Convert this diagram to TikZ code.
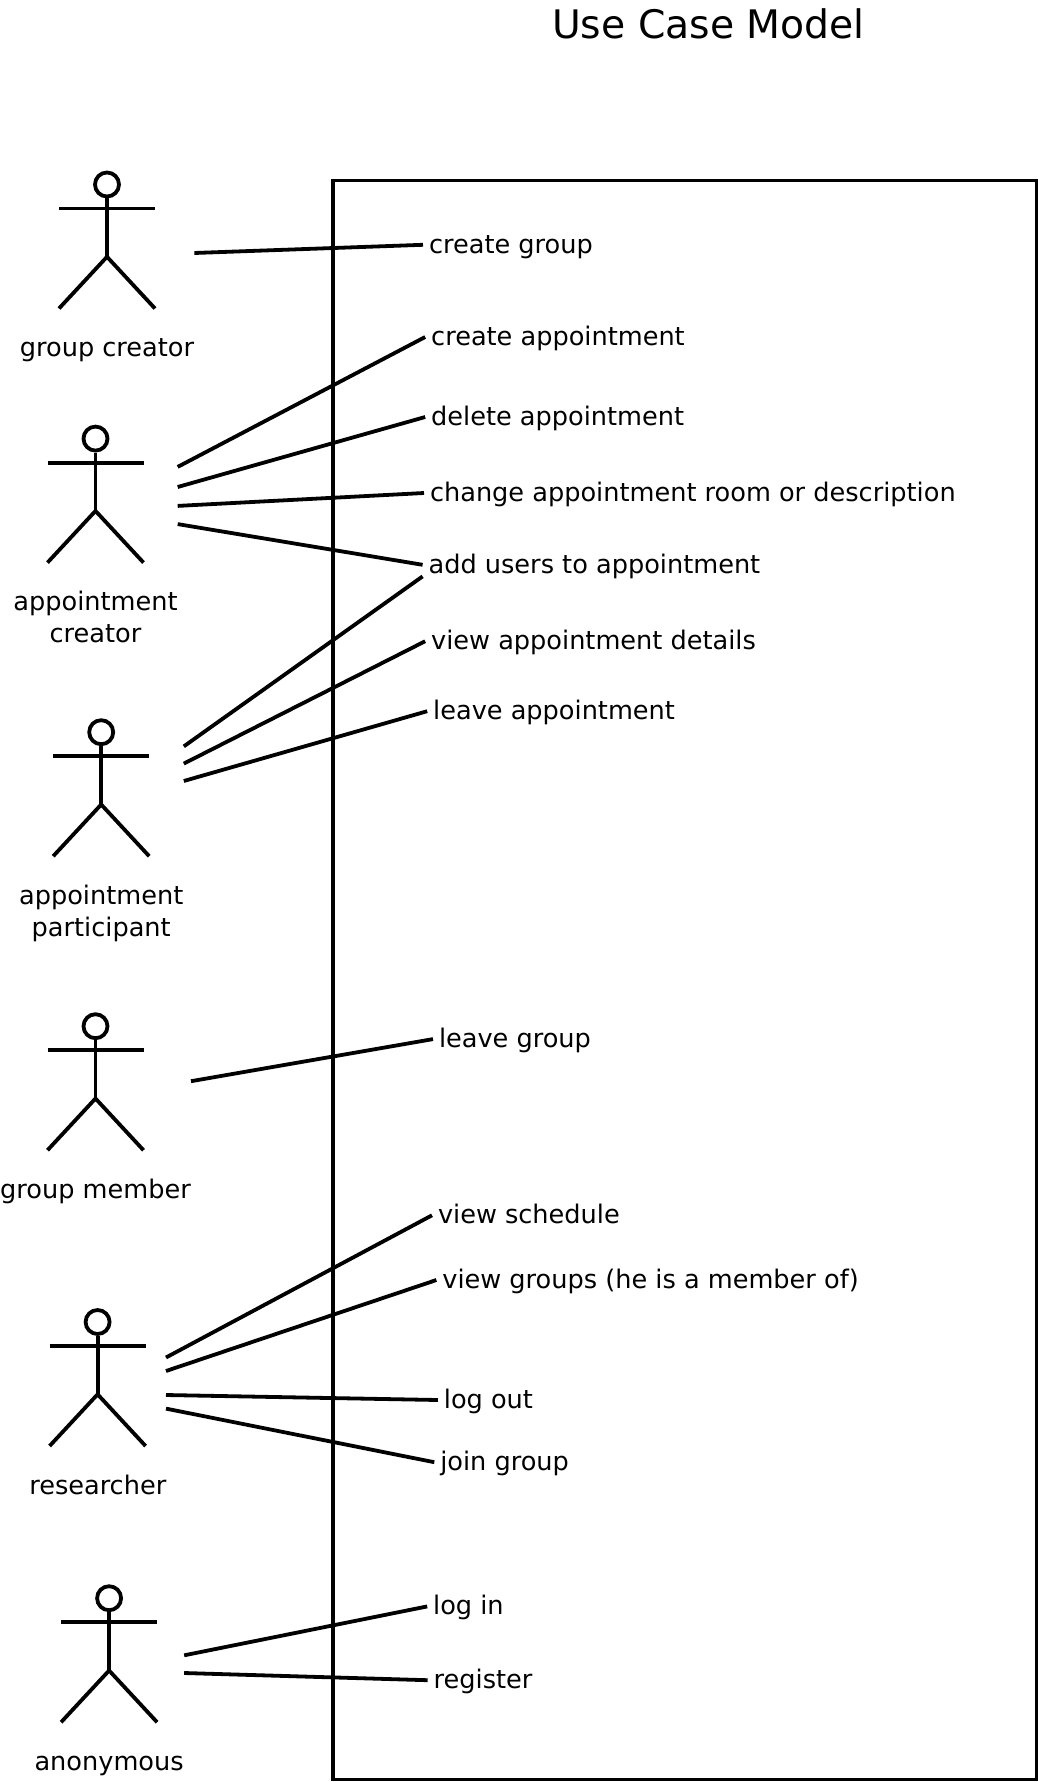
\documentclass[tikz,border=0pt]{standalone}
\usepackage{fontspec}
\setmainfont{DejaVu Sans}
\tikzset{
  stroke/.style={draw=black, line width=3.8pt},
  usecase/.style={anchor=west, inner xsep=6pt, inner ysep=0pt, outer sep=0pt, text height=21pt, text depth=4.2pt, font=\fontsize{25.6}{32}\selectfont},
  actorname/.style={anchor=north, inner sep=0pt, align=center, font=\fontsize{25.6}{32}\selectfont},
  pics/actor/.style={code={
    \node (-head) at (0,0) [circle, stroke, minimum size=24pt, inner sep=0pt] {};
    \coordinate (-hip) at (0,72.3);
    \draw[stroke] (-head) -- (-hip);
    \draw[stroke] (-48,24) -- (48,24);
    \draw[stroke] (-48,124) -- (-hip) -- (48,124);
  }}
}
\begin{document}
\begin{tikzpicture}[x=1pt, y=-1pt]
\useasboundingbox (0,0) rectangle (1038,1782);
\node (title) at (708.5,24) [font=\fontsize{39.3}{44}\selectfont, inner sep=0pt] {Use Case Model};
\node (system) at (684.75,980) [stroke, line width=3.9pt, minimum width=703.5pt, minimum height=1599pt, inner sep=0pt, outer sep=0pt] {};
% actors
\pic (creator) at (107,184.5) {actor};
\pic (apptcreator) at (95.5,438.6) {actor};
\pic (participant) at (101.2,732.2) {actor};
\pic (member) at (95.5,1026.2) {actor};
\pic (researcher) at (97.6,1322) {actor};
\pic (anon) at (109.1,1598.2) {actor};
\node (creatorname) at (107,334) [actorname] {\strut group creator};
\node (apptcreatorname) at (95.5,588.2) [actorname] {\strut appointment\\creator};
\node (participantname) at (101.2,881.6) [actorname] {\strut appointment\\participant};
\node (membername) at (95.5,1176) [actorname] {\strut group member};
\node (researchername) at (97.8,1471.5) [actorname] {\strut researcher};
\node (anonname) at (109.1,1748) [actorname] {\strut anonymous};
% use cases
\node (creategroup) at (423,244.8) [usecase] {create group};
\node (createappt) at (425.2,337) [usecase] {create appointment};
\node (deleteappt) at (425.2,417) [usecase] {delete appointment};
\node (changeappt) at (424,493) [usecase] {change appointment room or description};
\node (addusers) at (422.6,564.8) [usecase] {add users to appointment};
\node (viewdetails) at (425.2,641.2) [usecase] {view appointment details};
\node (leaveappt) at (427.2,711.2) [usecase] {leave appointment};
\node (leavegroup) at (433,1039.1) [usecase] {leave group};
\node (viewschedule) at (432,1215.3) [usecase] {view schedule};
\node (viewgroups) at (436.4,1280) [usecase] {view groups (he is a member of)};
\node (logout) at (437.9,1400) [usecase] {log out};
\node (joingroup) at (434.3,1462.2) [usecase] {join group};
\node (login) at (427.2,1606.4) [usecase] {log in};
\node (register) at (427.7,1680.2) [usecase] {register};
% free ends of the connectors
\coordinate (c1) at (194.4,253);
\coordinate (a1) at (177.7,466.9);
\coordinate (a2) at (177.7,487);
\coordinate (a3) at (177.7,505.9);
\coordinate (a4) at (177.7,524.1);
\coordinate (p1) at (183.8,746.4);
\coordinate (p2) at (183.8,763.6);
\coordinate (p3) at (183.8,781);
\coordinate (p4) at (422.6,576.4);
\coordinate (m1) at (191,1081.2);
\coordinate (r1) at (166,1357.5);
\coordinate (r2) at (166,1371);
\coordinate (r3) at (166,1395);
\coordinate (r4) at (166,1408.6);
\coordinate (n1) at (184.2,1655.3);
\coordinate (n2) at (184.2,1673);
% connectors
\draw[stroke] (c1) -- (creategroup.west);
\draw[stroke] (a1) -- (createappt.west);
\draw[stroke] (a2) -- (deleteappt.west);
\draw[stroke] (a3) -- (changeappt.west);
\draw[stroke] (a4) -- (addusers.west);
\draw[stroke] (p1) -- (p4);
\draw[stroke] (p2) -- (viewdetails.west);
\draw[stroke] (p3) -- (leaveappt.west);
\draw[stroke] (m1) -- (leavegroup.west);
\draw[stroke] (r1) -- (viewschedule.west);
\draw[stroke] (r2) -- (viewgroups.west);
\draw[stroke] (r3) -- (logout.west);
\draw[stroke] (r4) -- (joingroup.west);
\draw[stroke] (n1) -- (login.west);
\draw[stroke] (n2) -- (register.west);
\end{tikzpicture}
\end{document}
